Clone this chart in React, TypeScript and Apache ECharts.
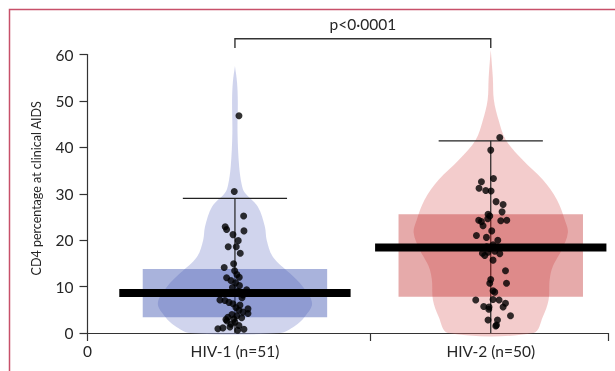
import React, { useEffect, useRef } from "react";
import * as echarts from "echarts";

// ---------- data ----------
const CATEGORIES = ["HIV-1 (n=51)", "HIV-2 (n=50)"];
const GROUP_X = [28.3, 77.4]; // category centres on the 0–100 horizontal scale
const DIVIDER_X = 54.2;
const X_MAX = 100;
const Y_TICKS = [0, 10, 20, 30, 40, 50, 60];
const Y_TITLE = "CD4 percentage at clinical AIDS";

const MEDIANS = [8.6, 18.4];
const Q1 = [3.4, 7.8];
const Q3 = [13.8, 25.6];
const WHISKER_LOW = [0, 0];
const WHISKER_HIGH = [29.0, 41.4];
const P_LABEL = "p<0·0001";

// [jitter, CD4 %]
const HIV1_POINTS: number[][] = [
  [0.77, 46.8], [-0.13, 30.5], [1.67, 25.2], [-1.87, 22.9], [-1.6, 22.3], [1.73, 22.0],
  [-0.38, 21.2], [0.63, 19.9], [-1.29, 18.6], [0.25, 18.6], [1.02, 17.2], [-0.25, 14.9],
  [-2.06, 14.1], [-0.06, 13.4], [0.38, 12.6], [-1.6, 11.9], [0.83, 12.0], [-0.77, 11.3],
  [0.13, 10.8], [0.87, 10.2], [-0.48, 9.8], [2.25, 9.3], [0.58, 9.0], [-1.15, 8.5],
  [1.54, 8.2], [-2.88, 7.1], [-1.92, 7.0], [-1.15, 6.6], [-0.38, 6.3], [0.96, 6.0],
  [0.19, 5.5], [2.5, 5.2], [0.77, 4.9], [1.54, 4.5], [2.5, 4.2], [-0.58, 4.0],
  [0.38, 3.7], [-1.35, 3.4], [1.29, 3.3], [-1.73, 2.9], [-1.54, 2.6], [0, 2.3],
  [-0.77, 1.9], [0.77, 1.6], [-0.96, 1.3], [-3.27, 0.9], [0.52, 0.6], [-2.31, 1.1],
  [1.73, 0.8], [-0.19, 3.0], [1.35, 7.6],
];
const HIV2_POINTS: number[][] = [
  [1.73, 42.1], [0, 39.4], [0.52, 33.3], [-1.79, 32.6], [-2.25, 31.2], [-0.96, 30.7],
  [0.06, 30.6], [1.02, 28.3], [2.37, 27.7], [2.17, 26.1], [-0.52, 25.6], [-0.19, 25.2],
  [1.92, 24.2], [3.08, 24.3], [-1.79, 24.0], [-1.48, 23.1], [-0.58, 24.6], [-2.75, 21.0],
  [-0.83, 20.6], [0.44, 19.0], [-0.19, 18.2], [-1.6, 17.2], [-0.52, 17.4], [0.77, 17.6],
  [1.73, 17.1], [0.44, 15.7], [2.83, 13.4], [3.02, 10.7], [-0.19, 10.7], [0.44, 9.1],
  [0.77, 8.8], [-2.88, 7.1], [0.44, 7.2], [1.6, 7.1], [2.83, 6.4], [-1.35, 5.7],
  [-0.33, 5.6], [2.37, 5.6], [-0.38, 5.1], [3.79, 3.7], [-0.52, 2.8], [1.29, 2.8],
  [1.1, 1.7], [0.96, 1.5], [-0.77, 18.6], [-2.31, 24.3], [0.19, 22.0], [1.35, 20.0],
  [-1.15, 16.7], [0, 11.5],
];

// violin outline: [CD4 %, half width]
const HIV1_VIOLIN: number[][] = [
  [57.5, 0], [54, 0.4], [50, 0.55], [43, 0.5], [36, 0.8], [32, 1.3], [30.2, 1.9],
  [27.2, 4.4], [22.9, 5.75], [20, 6.1], [16.4, 7.3], [12.9, 10.5], [10, 13.0],
  [6.4, 14.8], [3.5, 13.4], [1.5, 11.5], [0, 8.6],
];
const HIV2_VIOLIN: number[][] = [
  [61, 0], [55, 0.4], [50.2, 0.6], [45.9, 1.5], [41.6, 2.9], [37.3, 6.1], [33, 10.0],
  [28.7, 12.7], [24.4, 14.2], [21.6, 14.8], [17.9, 13.6], [14.3, 11.9], [11.4, 11.3],
  [7.1, 11.1], [3.5, 10.0], [0, 8.2],
];

const POINTS = [HIV1_POINTS, HIV2_POINTS];
const VIOLINS = [HIV1_VIOLIN, HIV2_VIOLIN];

// ---------- styles ----------
const FONT = "Lato";
const TEXT_COLOR = "#262626";
const LABEL_SIZE = 15.5;
const VIOLIN_COLORS = ["rgba(150,160,215,0.45)", "rgba(220,110,110,0.35)"];
const BOX_COLORS = ["rgba(59,82,175,0.44)", "rgba(186,25,25,0.37)"];
const BOX_HALF = 17.7;
const MEDIAN_HALF = 22.2;
const CAP_HALF = 10;
const BRACKET_Y = 63.4;
const BRACKET_DROP = 61.4;
const P_Y = 66.6;

export default function App() {
  const ref = useRef<HTMLDivElement>(null);

  useEffect(() => {
    if (!ref.current) return;
    const chart = echarts.init(ref.current, undefined, { renderer: "svg" });

    const violinSeries = VIOLINS.map((profile, g) => ({
      type: "custom",
      data: [[GROUP_X[g], 0]],
      encode: { x: 0, y: 1 },
      silent: true,
      renderItem: (_p: any, api: any) => {
        const cx = GROUP_X[g];
        const right = profile.map(([v, w]) => api.coord([cx + w, v]));
        const left = profile
          .slice()
          .reverse()
          .map(([v, w]) => api.coord([cx - w, v]));
        return {
          type: "polygon",
          shape: { points: right.concat(left), smooth: 0.35 },
          style: { fill: VIOLIN_COLORS[g], stroke: "none" },
        };
      },
    }));

    const scatterSeries = POINTS.map((pts, g) => ({
      type: "scatter",
      data: pts.map(([j, v]) => [GROUP_X[g] + j, v]),
      symbolSize: 7,
      itemStyle: { color: "#000" },
      silent: true,
    }));

    const whiskerSeries = {
      type: "custom",
      data: GROUP_X.map((x, g) => [x, WHISKER_HIGH[g]]),
      encode: { x: 0, y: 1 },
      silent: true,
      renderItem: (p: any, api: any) => {
        const g = p.dataIndex;
        const cx = GROUP_X[g];
        const top = api.coord([cx, WHISKER_HIGH[g]]);
        const bot = api.coord([cx, WHISKER_LOW[g]]);
        const capL = api.coord([cx - CAP_HALF, WHISKER_HIGH[g]]);
        const capR = api.coord([cx + CAP_HALF, WHISKER_HIGH[g]]);
        const st = { stroke: "#222", lineWidth: 1.2 };
        return {
          type: "group",
          children: [
            { type: "line", shape: { x1: top[0], y1: top[1], x2: bot[0], y2: bot[1] }, style: st },
            { type: "line", shape: { x1: capL[0], y1: capL[1], x2: capR[0], y2: capR[1] }, style: st },
          ],
        };
      },
    };

    const boxSeries = {
      type: "custom",
      data: GROUP_X.map((x, g) => [x, Q3[g]]),
      encode: { x: 0, y: 1 },
      silent: true,
      renderItem: (p: any, api: any) => {
        const g = p.dataIndex;
        const cx = GROUP_X[g];
        const a = api.coord([cx - BOX_HALF, Q3[g]]);
        const b = api.coord([cx + BOX_HALF, Q1[g]]);
        return {
          type: "rect",
          shape: { x: a[0], y: a[1], width: b[0] - a[0], height: b[1] - a[1] },
          style: { fill: BOX_COLORS[g] },
        };
      },
    };

    const medianSeries = {
      type: "custom",
      data: GROUP_X.map((x, g) => [x, MEDIANS[g]]),
      encode: { x: 0, y: 1 },
      silent: true,
      renderItem: (p: any, api: any) => {
        const g = p.dataIndex;
        const cx = GROUP_X[g];
        const a = api.coord([cx - MEDIAN_HALF, MEDIANS[g]]);
        const b = api.coord([cx + MEDIAN_HALF, MEDIANS[g]]);
        const h = 8;
        return {
          type: "rect",
          shape: { x: a[0], y: a[1] - h / 2, width: b[0] - a[0], height: h },
          style: { fill: "#000" },
        };
      },
    };

    const bracketSeries = {
      type: "custom",
      data: [[(GROUP_X[0] + GROUP_X[1]) / 2, BRACKET_Y]],
      encode: { x: 0, y: 1 },
      silent: true,
      renderItem: (_p: any, api: any) => {
        const p1 = api.coord([GROUP_X[0], BRACKET_DROP]);
        const p2 = api.coord([GROUP_X[0], BRACKET_Y]);
        const p3 = api.coord([GROUP_X[1], BRACKET_Y]);
        const p4 = api.coord([GROUP_X[1], BRACKET_DROP]);
        const t = api.coord([(GROUP_X[0] + GROUP_X[1]) / 2, P_Y]);
        return {
          type: "group",
          children: [
            {
              type: "polyline",
              shape: { points: [p1, p2, p3, p4] },
              style: { stroke: "#333", lineWidth: 1.4, fill: "none" },
            },
            {
              type: "text",
              style: {
                text: P_LABEL,
                x: t[0],
                y: t[1],
                align: "center",
                verticalAlign: "middle",
                fill: TEXT_COLOR,
                fontSize: LABEL_SIZE,
                fontFamily: FONT,
              },
            },
          ],
        };
      },
    };

    const labelMap: Record<string, string> = {};
    labelMap[String(0)] = "0";
    GROUP_X.forEach((x, g) => (labelMap[String(x)] = CATEGORIES[g]));

    chart.setOption({
      animation: false,
      grid: { left: 87.5, right: 6.5, top: 54.5, bottom: 38, containLabel: false },
      xAxis: {
        type: "value",
        min: 0,
        max: X_MAX,
        splitLine: { show: false },
        axisLine: { show: true, lineStyle: { color: "#333", width: 1.2 } },
        axisTick: {
          show: true,
          length: 8,
          customValues: [0, DIVIDER_X, X_MAX],
          lineStyle: { color: "#333", width: 1.2 },
        },
        axisLabel: {
          customValues: [0, ...GROUP_X],
          formatter: (v: number) => labelMap[String(v)] ?? "",
          margin: 10,
          color: TEXT_COLOR,
          fontSize: LABEL_SIZE,
          fontFamily: FONT,
        },
      },
      yAxis: {
        type: "value",
        min: 0,
        max: 60,
        interval: 10,
        name: Y_TITLE,
        nameLocation: "middle",
        nameRotate: 90,
        nameGap: 45,
        nameTextStyle: {
          color: TEXT_COLOR,
          fontSize: 12.5,
          fontFamily: FONT,
          padding: [0, 0, 0, 11],
        },
        splitLine: { show: false },
        axisLine: { show: true, lineStyle: { color: "#333", width: 1.2 } },
        axisTick: { show: true, length: 8, lineStyle: { color: "#333", width: 1.2 } },
        axisLabel: {
          customValues: Y_TICKS,
          margin: 14,
          color: TEXT_COLOR,
          fontSize: LABEL_SIZE,
          fontFamily: FONT,
        },
      },
      graphic: [
        {
          type: "rect",
          shape: { x: 9.5, y: 9.5, width: 800, height: 600 },
          style: { fill: "none", stroke: "#c8506a", lineWidth: 1.5 },
          silent: true,
        },
      ],
      series: [
        ...violinSeries,
        ...scatterSeries,
        whiskerSeries,
        boxSeries,
        medianSeries,
        bracketSeries,
      ],
    });

    return () => chart.dispose();
  }, []);

  return (
    <div
      ref={ref}
      style={{ position: "fixed", left: 0, top: 0, width: 615, height: 371 }}
    />
  );
}
